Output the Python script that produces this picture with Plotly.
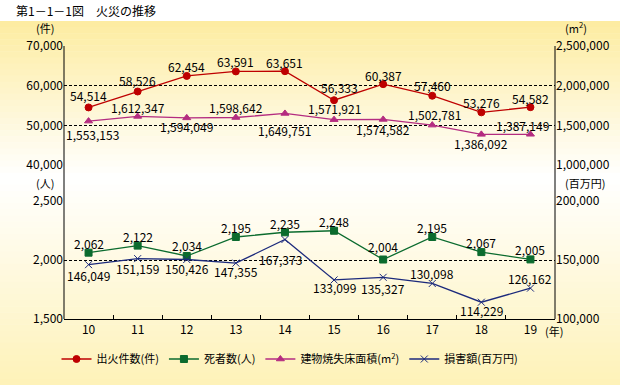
import plotly.graph_objects as go

years = ["10", "11", "12", "13", "14", "15", "16", "17", "18", "19"]
fires = [54514, 58526, 62454, 63591, 63651, 56333, 60387, 57460, 53276, 54582]
floor_area = [1553153, 1612347, 1594049, 1598642, 1649751, 1571921, 1574582, 1502781, 1386092, 1387149]
deaths = [2062, 2122, 2034, 2195, 2235, 2248, 2004, 2195, 2067, 2005]
damage = [146049, 151159, 150426, 147355, 167373, 133099, 135327, 130098, 114229, 126162]

# label offsets (px) from each marker: (dx, dy), dy positive = up
fires_off = [(0, 12), (0, 11), (0, 9), (0, 10), (0, 9), (5, 13), (0, 9), (0, 10), (0, 10), (0, 9)]
floor_off = [(4, -13), (0, 9), (0, -9), (0, 10), (0, -17), (0, 11), (0, -10), (2, 11), (0, -9), (-8, 9)]
deaths_off = [(0, 9), (0, 9), (0, 10), (0, 9), (0, 9), (0, 9), (0, 13), (0, 9), (0, 10), (0, 10)]
damage_off = [(0, -11), (0, -10), (0, -9), (0, -8), (-4, -20), (0, -8), (0, -11), (0, 10), (0, -8), (0, 10)]

W, H = 620, 385
ML, MR, MT, MB = 64, 65, 46, 66
PW, PH = W - ML - MR, H - MT - MB


def px_x(x):
    return (x - ML) / PW


def px_y(y):
    return (H - MB - y) / PH


FONT = "Noto Sans CJK JP, sans-serif"
RED, GREEN, MAG, NAVY = "#BE0000", "#0B6B2E", "#B42C80", "#1C2A7C"

fig = go.Figure()
ann = []


def add_series(vals, offs, name, color, symbol, ya, msize=7):
    fig.add_trace(go.Scatter(
        x=years, y=vals, name=name, mode="lines+markers",
        line=dict(color=color, width=1.3),
        marker=dict(symbol=symbol, size=msize, color=color,
                    line=dict(color=color, width=1)),
        xaxis="x", yaxis=ya, showlegend=True, hoverinfo="skip"))
    for i, (v, (dx, dy)) in enumerate(zip(vals, offs)):
        ann.append(dict(x=i, y=v, xref="x", yref=ya, text=f"{v:,}", showarrow=False,
                        xanchor="center", yanchor="middle", xshift=dx, yshift=dy,
                        font=dict(family=FONT, size=12, color="black")))


add_series(fires, fires_off, "出火件数(件)", RED, "circle", "y")
add_series(deaths, deaths_off, "死者数(人)", GREEN, "square", "y3")
add_series(floor_area, floor_off, "建物焼失床面積(m<sup>2</sup>)", MAG, "triangle-up", "y2")
add_series(damage, damage_off, "損害額(百万円)", NAVY, "x-thin-open", "y4")

top_dom = [px_y(165), 1.0]
bot_dom = [0.0, px_y(201)]
grid = dict(showgrid=True, gridcolor="black", gridwidth=1, griddash="3px,2px")
tickf = dict(family=FONT, size=12, color="black")

fig.update_layout(
    width=W, height=H,
    margin=dict(l=ML, r=MR, t=MT, b=MB, autoexpand=False),
    paper_bgcolor="white", plot_bgcolor="rgba(0,0,0,0)",
    font=dict(family=FONT, size=12, color="black"),
    hovermode=False,
    xaxis=dict(type="category", anchor="y3", range=[-0.5, 9.5], showline=True,
               linecolor="black", linewidth=1, ticks="inside", tickson="boundaries",
               ticklen=4, tickcolor="black", showgrid=False, tickfont=tickf, zeroline=False),
    yaxis=dict(domain=top_dom, range=[40000, 70000], dtick=10000, tickformat=",",
               anchor="x", side="left", tickfont=tickf, zeroline=False, **grid),
    yaxis2=dict(overlaying="y", anchor="x", side="right", range=[1000000, 2500000],
                dtick=500000, tickformat=",", showgrid=False, tickfont=tickf, zeroline=False),
    yaxis3=dict(domain=bot_dom, range=[1500, 2500], dtick=500, tickformat=",",
                anchor="x", side="left", tickfont=tickf, zeroline=False, **grid),
    yaxis4=dict(overlaying="y3", anchor="x", side="right", range=[100000, 200000],
                dtick=50000, tickformat=",", showgrid=False, tickfont=tickf, zeroline=False),
    legend=dict(orientation="h", x=px_x(290), xanchor="center", y=px_y(359), yanchor="middle",
                font=dict(family=FONT, size=11, color="black"), bgcolor="rgba(0,0,0,0)",
                itemwidth=30, tracegroupgap=0, traceorder="normal"),
)

shapes = []
# gradient background
top_c = (253, 236, 160)
mid_c = (255, 255, 255)
bot_c = (254, 242, 184)
y_start, y_mid, y_end = 21, 178, 385
N = 60
for i in range(N):
    y0 = y_start + (y_end - y_start) * i / N
    y1 = y_start + (y_end - y_start) * (i + 1) / N + 0.5
    yc = (y0 + y1) / 2
    if yc < y_mid:
        t = (yc - y_start) / (y_mid - y_start)
        c = tuple(round(a + (b - a) * t) for a, b in zip(top_c, mid_c))
    else:
        t = (yc - y_mid) / (y_end - y_mid)
        c = tuple(round(a + (b - a) * t) for a, b in zip(mid_c, bot_c))
    shapes.append(dict(type="rect", xref="paper", yref="paper", layer="below",
                       x0=px_x(0), x1=px_x(W), y0=px_y(y1), y1=px_y(y0),
                       line=dict(width=0), fillcolor="rgb(%d,%d,%d)" % c))
# frame vertical lines
for xx in (0, 1):
    shapes.append(dict(type="line", xref="paper", yref="paper", x0=xx, x1=xx, y0=0, y1=1,
                       line=dict(color="black", width=1)))
fig.update_layout(shapes=shapes)

UF = dict(family=FONT, size=11, color="black")
extra = [
    dict(text="第1－1－1図　火災の推移", x=px_x(14), y=px_y(10), xanchor="left", yanchor="middle",
         font=dict(family=FONT, size=12, color="black")),
    dict(text="(件)", x=px_x(56), y=px_y(38), xanchor="right", yanchor="bottom", font=UF),
    dict(text="(m<sup>2</sup>)", x=px_x(563), y=px_y(38), xanchor="left", yanchor="bottom", font=UF),
    dict(text="(人)", x=px_x(56), y=px_y(193), xanchor="right", yanchor="bottom", font=UF),
    dict(text="(百万円)", x=px_x(563), y=px_y(193), xanchor="left", yanchor="bottom", font=UF),
    dict(text="(年)", x=px_x(543), y=px_y(331), xanchor="left", yanchor="middle", font=UF),
]
for a in extra:
    a.update(xref="paper", yref="paper", showarrow=False)
fig.update_layout(annotations=ann + extra)

fig.write_html("out.html", config={"displayModeBar": False},
               post_script="document.body.style.margin='0';")
